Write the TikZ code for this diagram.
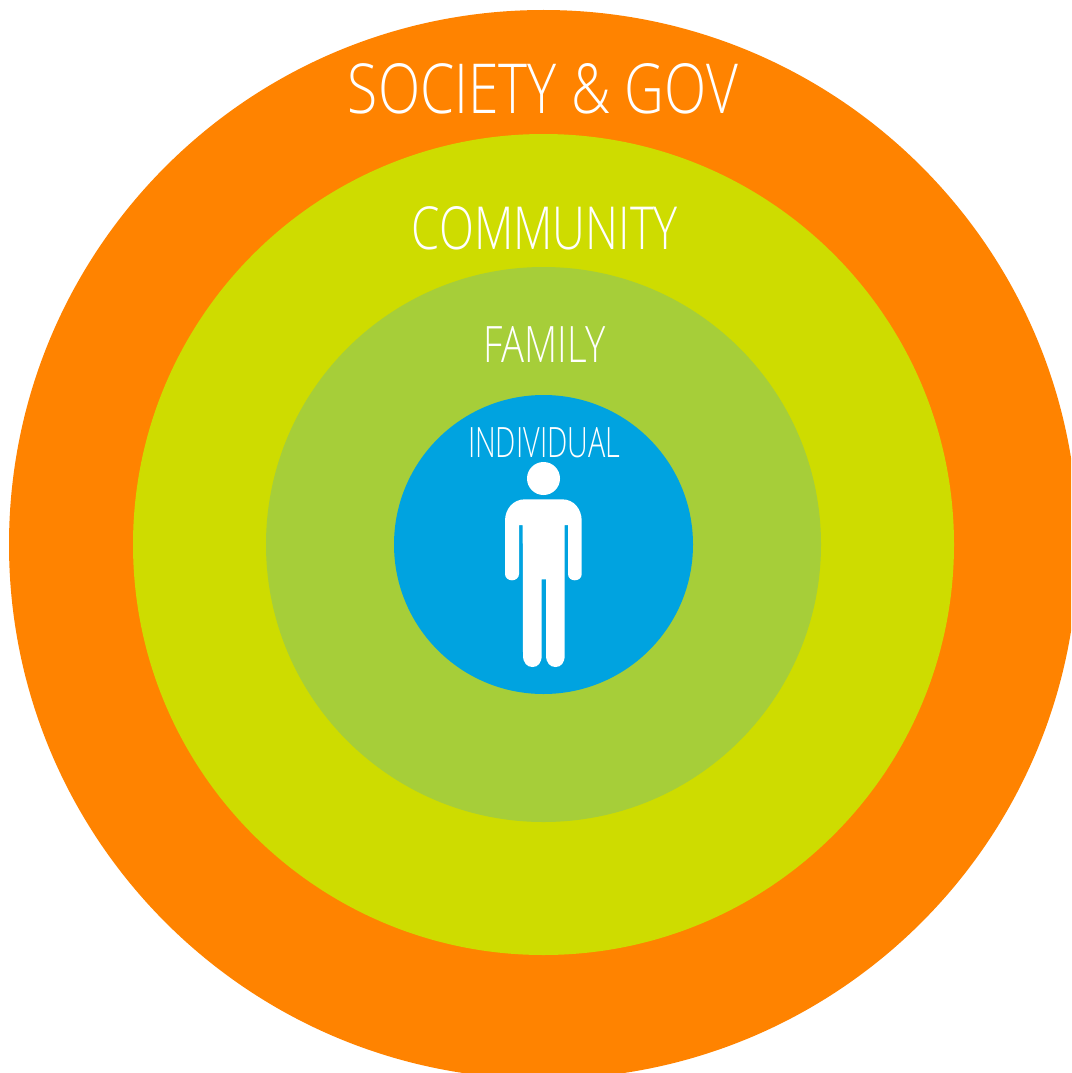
\documentclass[tikz,border=0pt]{standalone}
\usepackage{graphicx}
\usepackage{fontspec}
\newfontfamily\ringfont{Open Sans Light}
\definecolor{societyOrange}{HTML}{FF8300}
\definecolor{communityGreen}{HTML}{CEDC00}
\definecolor{familyGreen}{HTML}{A6CE39}
\definecolor{individualBlue}{HTML}{00A3E0}
\tikzstyle{diagram}=[x=1pt, y=-1pt]
\tikzstyle{ring}=[circle, inner sep=0pt, outer sep=0pt, draw=none]
\tikzstyle{ringLabel}=[inner sep=0pt, text=white, font=\ringfont]
\tikzstyle{figure}=[fill=white, draw=none]
\newcommand{\midX}{543.5}
\newcommand{\midY}{544.5}
\begin{document}
\begin{tikzpicture}[diagram]
	\useasboundingbox (0,0) rectangle (1071,1073);
	\clip (0,0) rectangle (1071,1073);
	%The rings
	\node[ring, fill=societyOrange, minimum size=1069pt] (society) at (\midX,\midY) {};
	\node[ring, fill=communityGreen, minimum size=821pt] (community) at (\midX,\midY) {};
	\node[ring, fill=familyGreen, minimum size=555pt] (family) at (\midX,\midY) {};
	\node[ring, fill=individualBlue, minimum size=299pt] (individual) at (\midX,\midY) {};

	%The labels
	\node[ringLabel] (societyLabel) at (543,88.5) {\resizebox{390pt}{50pt}{SOCIETY \& GOV}};
	\node[ringLabel] (communityLabel) at (545,228.5) {\resizebox{266pt}{43pt}{COMMUNITY}};
	\node[ringLabel] (familyLabel) at (544.5,344) {\resizebox{123pt}{36pt}{FAMILY}};
	\node[ringLabel] (individualLabel) at (544,442.5) {\resizebox{152pt}{30pt}{INDIVIDUAL}};

	%The person
	\fill[figure] (543.5,478.5) circle (16.5);
	\fill[figure] (525,499.3) -- (562,499.3)
		.. controls (574,499.3) and (581.7,509) .. (581.7,521)
		-- (581.7,574) .. controls (581.7,578) and (578.5,580.3) .. (574.8,580.3)
		.. controls (571.2,580.3) and (568,578) .. (568,574)
		-- (568,525) -- (564.7,525) -- (564.7,655)
		.. controls (564.7,663) and (561,667) .. (555.5,667)
		.. controls (550,667) and (546,663) .. (546,655)
		-- (546,579.3) -- (541.7,579.3) -- (541.7,655)
		.. controls (541.7,663) and (538,667) .. (532.5,667)
		.. controls (527,667) and (523,663) .. (523,655)
		-- (522.7,525) -- (519,525) -- (519,574)
		.. controls (519,578) and (515.5,580.3) .. (512,580.3)
		.. controls (508.5,580.3) and (505,578) .. (505,574)
		-- (505,521) .. controls (505,509) and (513,499.3) .. (525,499.3) -- cycle;
\end{tikzpicture}
\end{document}
